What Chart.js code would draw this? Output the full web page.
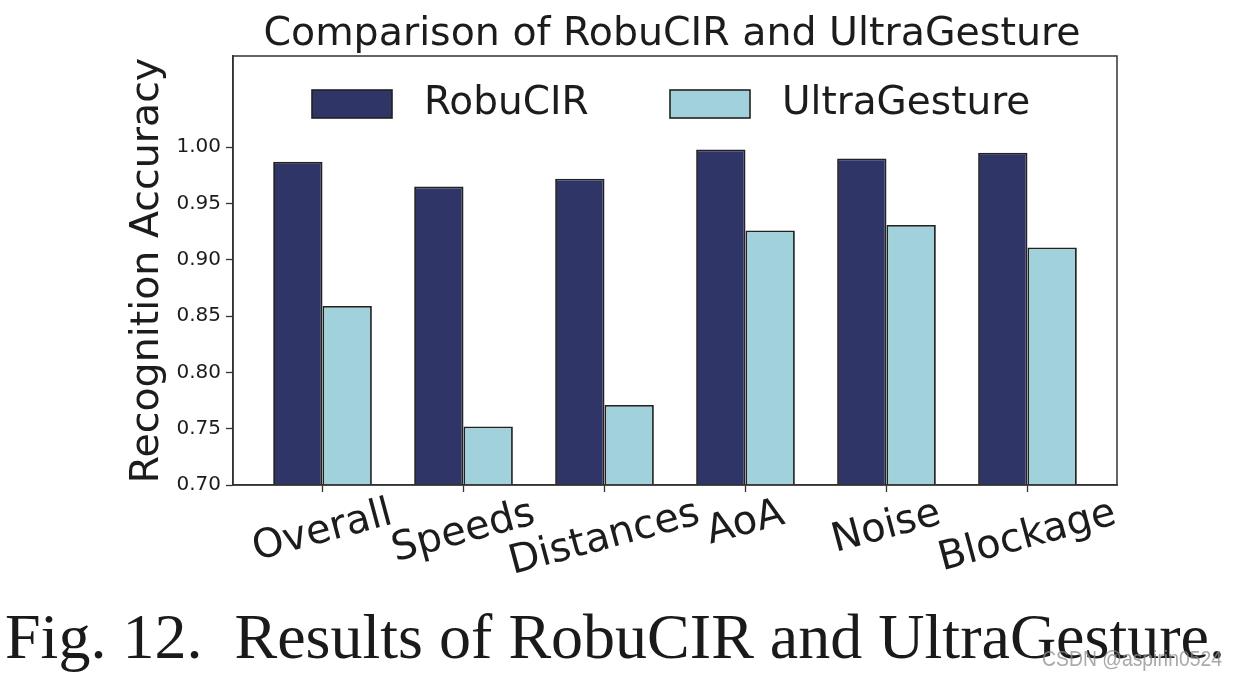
<!DOCTYPE html>
<html>
<head>
<meta charset="utf-8">
<script src="https://cdn.jsdelivr.net/npm/chart.js@4.4.1/dist/chart.umd.min.js"></script>
<style>
  html, body { margin: 0; padding: 0; background: #fff; overflow: hidden; }
  #wrap { position: absolute; left: 0; top: 0; width: 1237px; height: 679px; }
</style>
</head>
<body>
<div id="wrap"><canvas id="grafico"></canvas></div>
<script>
var categorias = ['Overall', 'Speeds', 'Distances', 'AoA', 'Noise', 'Blockage'];
var robuCIR = [0.987, 0.965, 0.972, 0.998, 0.990, 0.995];
var ultraGesture = [0.859, 0.752, 0.771, 0.926, 0.931, 0.911];
var yTicks = [0.70, 0.75, 0.80, 0.85, 0.90, 0.95, 1.00];

var colorRobu = '#2f3567';
var colorUltra = '#a1d2dc';
var colorTexto = '#1c1c1c';

// escribe texto ajustado a un ancho dado
function textoAjustado(ctx, txt, x, y, fuente, ancho, color) {
    ctx.save();
    ctx.font = fuente;
    var w = ctx.measureText(txt).width;
    ctx.translate(x, y);
    ctx.scale(ancho / w, 1);
    ctx.fillStyle = color;
    ctx.textAlign = 'left';
    ctx.textBaseline = 'alphabetic';
    ctx.fillText(txt, 0, 0);
    ctx.restore();
}

var extras = {
    id: 'extras',
    afterDraw: function (chart) {
        var ctx = chart.ctx;
        var area = chart.chartArea;
        var xs = chart.scales.x;

        // marco
        ctx.save();
        ctx.strokeStyle = '#333';
        ctx.lineWidth = 1.5;
        ctx.strokeRect(area.left, area.top, area.right - area.left, area.bottom - area.top);
        ctx.restore();

        // titulo
        ctx.save();
        ctx.fillStyle = colorTexto;
        ctx.font = '39.5px "DejaVu Sans"';
        ctx.textAlign = 'center';
        ctx.textBaseline = 'alphabetic';
        ctx.fillText('Comparison of RobuCIR and UltraGesture', (area.left + area.right) / 2 - 3, 45);
        ctx.restore();

        // leyenda dentro del grafico
        var items = [
            { txt: 'RobuCIR', color: colorRobu, x: 312 },
            { txt: 'UltraGesture', color: colorUltra, x: 670 }
        ];
        ctx.save();
        items.forEach(function (it) {
            ctx.fillStyle = it.color;
            ctx.fillRect(it.x, 90, 80, 28);
            ctx.strokeStyle = '#222';
            ctx.lineWidth = 1.6;
            ctx.strokeRect(it.x, 90, 80, 28);
            ctx.fillStyle = colorTexto;
            ctx.font = '39px "DejaVu Sans"';
            ctx.textAlign = 'left';
            ctx.textBaseline = 'middle';
            ctx.fillText(it.txt, it.x + 112, 104);
        });
        ctx.restore();

        // etiquetas del eje x giradas
        var ang = 15 * Math.PI / 180;
        ctx.save();
        ctx.font = '40px "DejaVu Sans"';
        ctx.fillStyle = colorTexto;
        ctx.textAlign = 'center';
        ctx.textBaseline = 'middle';
        categorias.forEach(function (c, i) {
            var w = ctx.measureText(c).width;
            var h = 40;
            var alto = w * Math.sin(ang) + h * Math.cos(ang);
            var cx = xs.getPixelForValue(i);
            var cy = area.bottom + 9 + alto / 2;
            ctx.save();
            ctx.translate(cx, cy);
            ctx.rotate(-ang);
            ctx.fillText(c, 0, 0);
            ctx.restore();
        });
        ctx.restore();

        // titulo del eje y
        ctx.save();
        ctx.font = '39.5px "DejaVu Sans"';
        ctx.fillStyle = colorTexto;
        ctx.textAlign = 'center';
        ctx.textBaseline = 'middle';
        ctx.translate(148, (area.top + area.bottom) / 2);
        ctx.rotate(-Math.PI / 2);
        ctx.fillText('Recognition Accuracy', 0, 0);
        ctx.restore();

        // pie de figura y marca de agua
        textoAjustado(ctx, 'Fig. 12.  Results of RobuCIR and UltraGesture.', 5, 658,
            '64px "Liberation Serif"', 1220, '#1a1a1a');
        textoAjustado(ctx, 'CSDN @aspirin0524', 1042, 666,
            '22px "Liberation Sans"', 180, 'rgba(140,140,140,0.75)');
    }
};

var ctx = document.getElementById('grafico').getContext('2d');
window.miGrafico = new Chart(ctx, {
    type: 'bar',
    data: {
        datasets: [{
            label: 'RobuCIR',
            data: robuCIR.map(function (v, i) { return { x: i, y: v }; }),
            backgroundColor: colorRobu,
            borderColor: '#222',
            borderWidth: 1.8,
            base: 0.7
        }, {
            label: 'UltraGesture',
            data: ultraGesture.map(function (v, i) { return { x: i, y: v }; }),
            backgroundColor: colorUltra,
            borderColor: '#222',
            borderWidth: 1.8,
            base: 0.7
        }]
    },
    options: {
        responsive: true,
        maintainAspectRatio: false,
        animation: false,
        layout: { padding: { left: 0, right: 120, top: 56, bottom: 0 } },
        datasets: { bar: { categoryPercentage: 0.7, barPercentage: 1 } },
        plugins: {
            legend: { display: false },
            title: { display: false },
            tooltip: { enabled: false }
        },
        scales: {
            x: {
                type: 'linear',
                offset: false,
                min: -0.635,
                max: 5.635,
                afterBuildTicks: function (s) {
                    s.ticks = categorias.map(function (c, i) { return { value: i }; });
                },
                ticks: { display: false },
                grid: { offset: false, drawOnChartArea: false, tickLength: 7, tickColor: '#333', tickWidth: 1.3 },
                border: { display: true, color: '#333', width: 1.5 },
                afterFit: function (s) { s.height = 194; }
            },
            y: {
                min: 0.7,
                max: 1.081,
                afterBuildTicks: function (s) {
                    s.ticks = yTicks.map(function (v) { return { value: v }; });
                },
                ticks: {
                    font: { family: 'DejaVu Sans', size: 20 },
                    color: colorTexto,
                    padding: 5,
                    callback: function (v) { return v.toFixed(2); }
                },
                grid: { drawOnChartArea: false, tickLength: 7, tickColor: '#333', tickWidth: 1.3 },
                border: { display: true, color: '#333', width: 1.5 },
                afterFit: function (s) { s.width = 233; }
            }
        }
    },
    plugins: [extras]
});
</script>
</body>
</html>
